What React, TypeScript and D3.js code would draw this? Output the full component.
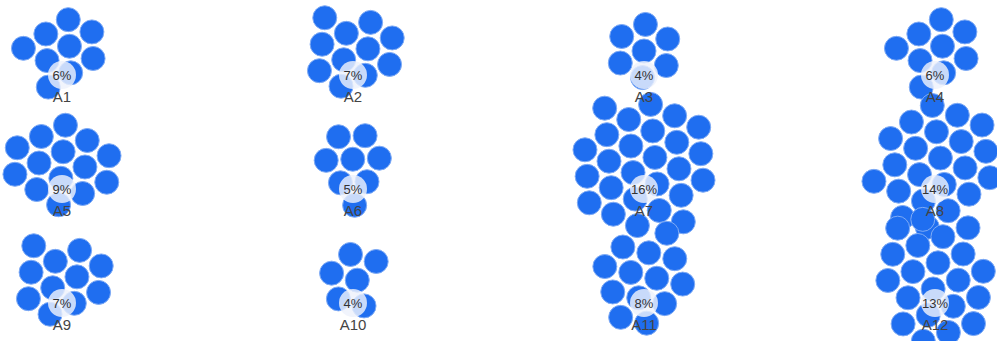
import React, { useMemo } from 'react';
import * as d3 from 'd3';

const categories = ['A1', 'A2', 'A3', 'A4', 'A5', 'A6', 'A7', 'A8', 'A9', 'A10', 'A11', 'A12'];
const percents = [6, 7, 4, 6, 9, 5, 16, 14, 7, 4, 8, 13];
const bubbleCounts = [9, 11, 7, 9, 14, 8, 26, 22, 11, 6, 13, 21];
const columns = ['0', '1', '2', '3'];
const rows = ['0', '1', '2'];

const W = 997;
const H = 341;
const R = 12;

type Node = { x: number; y: number; group: number };

export default function App() {
  const x = d3.scalePoint<string>().domain(columns).range([62, 935]);
  const y = d3.scalePoint<string>().domain(rows).range([75, 303]);

  const groups = useMemo(() => {
    return categories.map((c, i) => {
      const gx = x(columns[i % 4]) as number;
      const gy = y(rows[Math.floor(i / 4)]) as number;
      const cx = gx;
      const cy = gy - 24;
      const n = bubbleCounts[i];
      const ns: Node[] = d3.range(n).map((k) => {
        const r = 10 * Math.sqrt(0.5 + k);
        const a = k * Math.PI * (3 - Math.sqrt(5));
        return { x: cx + r * Math.cos(a), y: cy + r * Math.sin(a), group: i };
      });
      const sim = d3
        .forceSimulation(ns as any)
        .force('x', d3.forceX(cx).strength(0.08))
        .force('y', d3.forceY(cy).strength(0.08))
        .force('collide', d3.forceCollide(R + 1.3).iterations(4))
        .stop();
      for (let t = 0; t < 300; t++) sim.tick();
      return { name: c, pct: percents[i], gx, gy, nodes: ns };
    });
  }, []);

  const font = '"Liberation Sans", Arial, sans-serif';

  return (
    <svg
      width={W}
      height={H}
      style={{ position: 'absolute', left: 0, top: 0, display: 'block', background: '#fff' }}
    >
      {groups.map((g) => (
        <g key={g.name + 'c'}>
          {g.nodes.map((n, k) => (
            <circle key={k} cx={n.x} cy={n.y} r={R} fill="#1f6ef0" stroke="#7fabf5" strokeWidth={1} />
          ))}
        </g>
      ))}
      {groups.map((g) => (
        <g key={g.name + 'p'}>
          <circle cx={g.gx} cy={g.gy} r={14} fill="#eef2fb" fillOpacity={0.82} />
          <text
            x={g.gx}
            y={g.gy}
            dy="0.35em"
            textAnchor="middle"
            fontFamily={font}
            fontSize={13}
            fill="#333"
          >
            {g.pct}%
          </text>
        </g>
      ))}
      {groups.map((g) => (
        <text
          key={g.name + 'l'}
          x={g.gx}
          y={g.gy + 22}
          dy="0.35em"
          textAnchor="middle"
          fontFamily={font}
          fontSize={15}
          fill="#444"
        >
          {g.name}
        </text>
      ))}
    </svg>
  );
}
